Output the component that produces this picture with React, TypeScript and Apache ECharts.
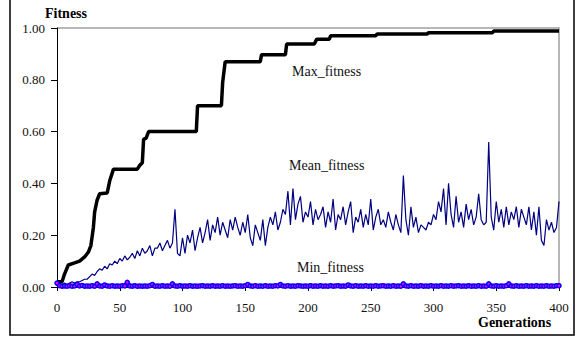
import React, { useEffect, useRef } from "react";
import * as echarts from "echarts";

const X_TICKS = [0, 50, 100, 150, 200, 250, 300, 350, 400];
const Y_TICKS = [0, 0.2, 0.4, 0.6, 0.8, 1.0];

// Max fitness: step breakpoints [generation, value]
const MAX_GEN = [0, 4, 6, 9, 14, 18, 22, 25, 27, 29, 30, 32, 34, 40, 42, 45, 64, 66, 68, 69, 71, 73, 111, 112, 131, 132, 134, 162, 163, 182, 183, 205, 207, 217, 218, 254, 255, 295, 296, 347, 348, 400];
const MAX_VAL = [0.02, 0.02, 0.05, 0.085, 0.093, 0.1, 0.116, 0.135, 0.16, 0.23, 0.29, 0.336, 0.36, 0.363, 0.41, 0.455, 0.455, 0.47, 0.48, 0.57, 0.575, 0.6, 0.6, 0.7, 0.7, 0.79, 0.87, 0.87, 0.897, 0.897, 0.938, 0.938, 0.957, 0.957, 0.97, 0.97, 0.977, 0.977, 0.982, 0.982, 0.988, 0.988];

// Mean and min fitness sampled every 2 generations (0..400)
const MEAN_VAL = [
  0.01, 0.01, 0.01, 0.015, 0.01, 0.015, 0.02, 0.015, 0.02, 0.02,
  0.025, 0.03, 0.03, 0.04, 0.05, 0.045, 0.06, 0.07, 0.065, 0.08,
  0.07, 0.09, 0.085, 0.1, 0.09, 0.11, 0.1, 0.12, 0.105, 0.115,
  0.13, 0.11, 0.14, 0.12, 0.15, 0.13, 0.14, 0.16, 0.12, 0.15,
  0.15, 0.17, 0.14, 0.16, 0.18, 0.15, 0.17, 0.3, 0.13, 0.12,
  0.19, 0.13, 0.2, 0.17, 0.22, 0.14, 0.19, 0.23, 0.17, 0.21,
  0.26, 0.18, 0.24, 0.21, 0.27, 0.2, 0.25, 0.22, 0.19, 0.26,
  0.22, 0.27, 0.23, 0.2, 0.25, 0.21, 0.28, 0.19, 0.16, 0.24,
  0.21, 0.18, 0.26, 0.16, 0.23, 0.27, 0.24, 0.29, 0.22, 0.25,
  0.3, 0.28, 0.37, 0.24, 0.38, 0.26, 0.32, 0.35, 0.25, 0.29,
  0.27, 0.33, 0.24, 0.3, 0.26, 0.28, 0.31, 0.23, 0.29, 0.25,
  0.34, 0.22, 0.28, 0.26, 0.31, 0.24, 0.29, 0.33, 0.21, 0.27,
  0.25, 0.3, 0.23, 0.28, 0.24, 0.34, 0.22, 0.27, 0.3, 0.24,
  0.26, 0.23, 0.29, 0.25, 0.22, 0.28, 0.24, 0.21, 0.43, 0.26,
  0.2, 0.31, 0.23, 0.27, 0.21, 0.24, 0.23, 0.22, 0.25, 0.24,
  0.28, 0.26, 0.33, 0.29, 0.38, 0.24, 0.4, 0.28, 0.23, 0.35,
  0.25, 0.29, 0.23, 0.32, 0.26, 0.3, 0.24, 0.27, 0.36, 0.26,
  0.24, 0.25, 0.56, 0.27, 0.22, 0.33, 0.25, 0.3, 0.23, 0.31,
  0.24, 0.29, 0.26, 0.31, 0.23, 0.3, 0.27, 0.24, 0.31, 0.22,
  0.29, 0.2, 0.31, 0.18, 0.16, 0.26, 0.22, 0.25, 0.21, 0.23,
  0.33,
];

const MIN_VAL = [
  0.015, 0.005, 0.003, 0.004, 0.003, 0.005, 0.003, 0.004, 0.01, 0.004,
  0.006, 0.003, 0.004, 0.003, 0.005, 0.003, 0.012, 0.004, 0.003, 0.008,
  0.004, 0.003, 0.005, 0.003, 0.004, 0.003, 0.005, 0.004, 0.018, 0.004,
  0.003, 0.005, 0.003, 0.004, 0.003, 0.004, 0.003, 0.005, 0.01, 0.003,
  0.004, 0.003, 0.005, 0.003, 0.004, 0.003, 0.012, 0.004, 0.003, 0.005,
  0.003, 0.004, 0.003, 0.005, 0.003, 0.004, 0.003, 0.004, 0.005, 0.003,
  0.004, 0.003, 0.005, 0.003, 0.004, 0.003, 0.005, 0.003, 0.004, 0.003,
  0.004, 0.005, 0.003, 0.004, 0.003, 0.005, 0.01, 0.004, 0.003, 0.005,
  0.003, 0.004, 0.003, 0.005, 0.003, 0.004, 0.003, 0.005, 0.004, 0.01,
  0.004, 0.003, 0.005, 0.003, 0.004, 0.003, 0.005, 0.004, 0.003, 0.004,
  0.003, 0.005, 0.003, 0.004, 0.003, 0.005, 0.003, 0.004, 0.003, 0.005,
  0.003, 0.004, 0.005, 0.003, 0.004, 0.003, 0.008, 0.004, 0.003, 0.005,
  0.003, 0.004, 0.003, 0.005, 0.003, 0.004, 0.003, 0.005, 0.003, 0.004,
  0.005, 0.003, 0.004, 0.003, 0.005, 0.003, 0.004, 0.003, 0.012, 0.004,
  0.003, 0.005, 0.003, 0.004, 0.003, 0.005, 0.003, 0.004, 0.003, 0.005,
  0.003, 0.004, 0.003, 0.005, 0.003, 0.004, 0.003, 0.005, 0.003, 0.004,
  0.005, 0.003, 0.004, 0.003, 0.005, 0.003, 0.004, 0.003, 0.005, 0.003,
  0.004, 0.003, 0.012, 0.004, 0.003, 0.005, 0.003, 0.004, 0.003, 0.005,
  0.012, 0.004, 0.003, 0.005, 0.003, 0.004, 0.003, 0.005, 0.003, 0.004,
  0.003, 0.005, 0.003, 0.004, 0.003, 0.005, 0.003, 0.004, 0.003, 0.005,
  0.005,
];

const SAMPLE_GEN = MEAN_VAL.map((_, i) => i * 2);

const SERIF = "'Liberation Serif', 'Times New Roman', serif";

export default function App() {
  const ref = useRef<HTMLDivElement>(null);

  useEffect(() => {
    document.body.style.margin = "0";
    if (!ref.current) return;
    const chart = echarts.init(ref.current, undefined, { renderer: "svg" });
    chart.setOption({
      animation: false,
      backgroundColor: "#ffffff",
      grid: { left: 57, top: 28, right: 22, bottom: 52, show: false },
      xAxis: {
        type: "value",
        min: 0,
        max: 400,
        interval: 50,
        axisLine: { show: true, onZero: false, lineStyle: { color: "#000", width: 1 } },
        axisTick: { show: true, inside: false, length: 4, lineStyle: { color: "#000" } },
        axisLabel: {
          margin: 14,
          color: "#111",
          fontFamily: SERIF,
          fontSize: 13,
          formatter: (v: number) => (X_TICKS.includes(v) ? String(v) : ""),
        },
        splitLine: { show: false },
      },
      yAxis: {
        type: "value",
        min: 0,
        max: 1,
        interval: 0.2,
        axisLine: { show: true, lineStyle: { color: "#000", width: 1 } },
        axisTick: { show: true, inside: false, length: 6, lineStyle: { color: "#000" } },
        axisLabel: {
          margin: 12,
          color: "#111",
          fontFamily: SERIF,
          fontSize: 13,
          formatter: (v: number) =>
            Y_TICKS.some((t) => Math.abs(t - v) < 1e-9) ? v.toFixed(2) : "",
        },
        splitLine: { show: false },
      },
      graphic: [
        {
          type: "rect",
          shape: { x: 10, y: -3, width: 564, height: 338 },
          style: { fill: "none", stroke: "#000", lineWidth: 1.5 },
          silent: true,
        },
        {
          type: "polyline",
          shape: { points: [[57, 28], [559, 28], [559, 287]] },
          style: { fill: "none", stroke: "#a0a0a0", lineWidth: 1.5 },
          silent: true,
        },
        {
          type: "text",
          x: 45,
          y: 13,
          style: {
            text: "Fitness",
            fontFamily: SERIF,
            fontWeight: "bold",
            fontSize: 14,
            fill: "#000",
            textVerticalAlign: "middle",
          },
        },
        {
          type: "text",
          x: 478,
          y: 322,
          style: {
            text: "Generations",
            fontFamily: SERIF,
            fontWeight: "bold",
            fontSize: 14,
            fill: "#000",
            textVerticalAlign: "middle",
          },
        },
        {
          type: "text",
          x: 292,
          y: 71,
          style: { text: "Max_fitness", fontFamily: SERIF, fontSize: 14, fill: "#111", textVerticalAlign: "middle" },
        },
        {
          type: "text",
          x: 289,
          y: 165,
          style: { text: "Mean_fitness", fontFamily: SERIF, fontSize: 14, fill: "#111", textVerticalAlign: "middle" },
        },
        {
          type: "text",
          x: 297,
          y: 267,
          style: { text: "Min_fitness", fontFamily: SERIF, fontSize: 14, fill: "#111", textVerticalAlign: "middle" },
        },
      ],
      series: [
        {
          name: "Mean_fitness",
          type: "line",
          data: SAMPLE_GEN.map((g, i) => [g, MEAN_VAL[i]]),
          showSymbol: false,
          symbol: "none",
          lineStyle: { color: "#000080", width: 1.2 },
          z: 2,
        },
        {
          name: "Max_fitness",
          type: "line",
          data: MAX_GEN.map((g, i) => [g, MAX_VAL[i]]),
          showSymbol: false,
          symbol: "none",
          lineStyle: { color: "#000000", width: 3.5 },
          z: 3,
        },
        {
          name: "Min_fitness",
          type: "line",
          data: SAMPLE_GEN.map((g, i) => [g, MIN_VAL[i]]),
          symbol: "circle",
          symbolSize: 4,
          showSymbol: true,
          showAllSymbol: true,
          itemStyle: { color: "#ff00ff", borderColor: "#0000ff", borderWidth: 1.5 },
          lineStyle: { color: "#0000ff", width: 4 },
          z: 4,
        },
      ],
    });
    return () => chart.dispose();
  }, []);

  return <div ref={ref} style={{ width: 581, height: 339 }} />;
}
